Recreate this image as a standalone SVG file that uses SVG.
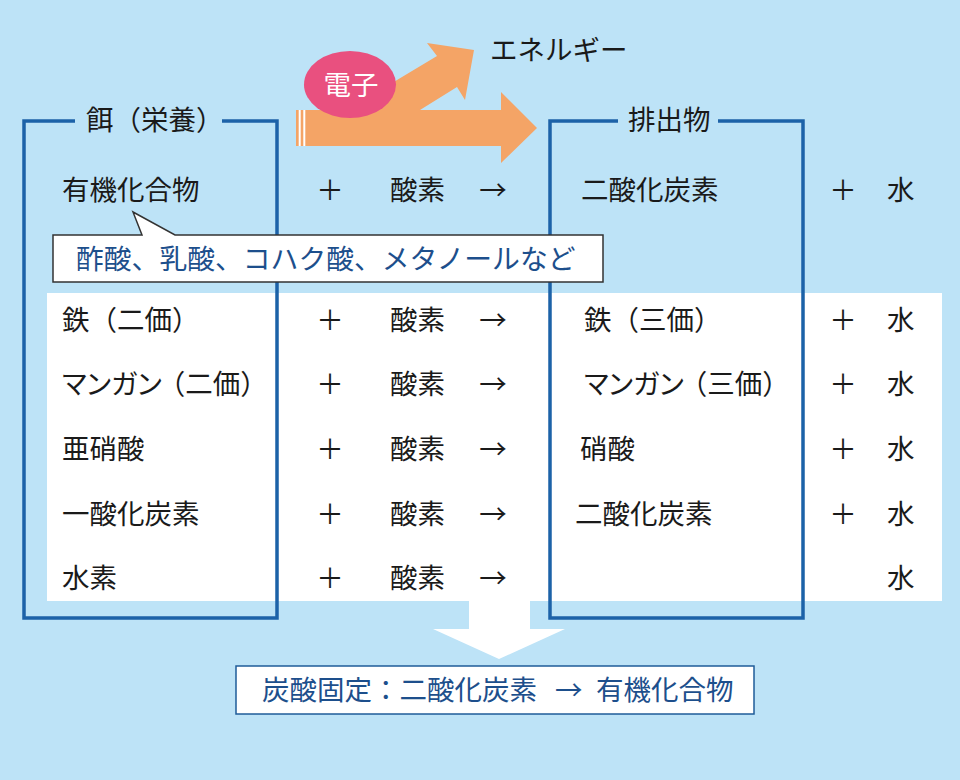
<svg xmlns="http://www.w3.org/2000/svg" width="960" height="780" viewBox="0 0 960 780">
<style>
text{font-family:"Noto Sans CJK JP","Noto Sans",sans-serif;font-size:27.5px;fill:#1a1a1a}
.m{text-anchor:middle}
.b{fill:#1d4f8c}
.w{fill:#ffffff}
.p{font-feature-settings:"palt"}
.br{fill:none;stroke:#1c62a8;stroke-width:3.5}
</style>
<rect x="0" y="0" width="960" height="780" fill="#bde3f7"/>
<rect id="band" x="47" y="293" width="895" height="308" fill="#ffffff"/>
<g id="energy-arrow">
<polygon fill="#f4a466" points="296,110 347,110 437,56 427,43 474,50 465,100 457,87 420,110 501,110 501,92 537,128 501,163 501,146 296,146"/>
<rect x="298.7" y="110" width="2" height="36" fill="#ffffff"/>
<rect x="303.3" y="110" width="2" height="36" fill="#ffffff"/>
<text x="490" y="60">エネルギー</text>
</g>
<g id="electron">
<ellipse cx="350" cy="84.5" rx="46" ry="33.5" fill="#e9507f"/>
<text class="m w" x="351" y="95">電子</text>
</g>
<g id="food">
<polyline class="br" points="75,121 24,121 24,618 277,618 277,121 222,121"/>
<text x="86" y="130">餌（栄養）</text>
</g>
<g id="waste">
<polyline class="br" points="618,121 550,121 550,618 803,618 803,121 718,121"/>
<text x="628" y="130">排出物</text>
</g>
<g id="callout">
<polygon points="53,235 142,235 133,212 175,235 603,235 603,282 53,282" fill="#ffffff" stroke="#333333" stroke-width="1.5"/>
<text class="b" x="76" y="269" style="font-size:27.8px">酢酸、乳酸、コハク酸、メタノールなど</text>
</g>
<g id="rows">
<text x="62" y="200">有機化合物</text>
<text class="m" x="330" y="200">＋</text>
<text x="390" y="200">酸素</text>
<text class="m" x="493" y="200">→</text>
<text x="581" y="200">二酸化炭素</text>
<text class="m" x="843" y="200">＋</text>
<text x="887" y="200">水</text>

<text x="62" y="330">鉄（二価）</text>
<text class="m" x="330" y="330">＋</text>
<text x="390" y="330">酸素</text>
<text class="m" x="493" y="330">→</text>
<text x="584" y="330">鉄（三価）</text>
<text class="m" x="843" y="330">＋</text>
<text x="887" y="330">水</text>

<text x="62" y="394"><tspan class="p">マンガン</tspan><tspan dx="-4">（二価）</tspan></text>
<text class="m" x="330" y="394">＋</text>
<text x="390" y="394">酸素</text>
<text class="m" x="493" y="394">→</text>
<text x="584" y="394"><tspan class="p">マンガン</tspan><tspan dx="-4">（三価）</tspan></text>
<text class="m" x="843" y="394">＋</text>
<text x="887" y="394">水</text>

<text x="62" y="459">亜硝酸</text>
<text class="m" x="330" y="459">＋</text>
<text x="390" y="459">酸素</text>
<text class="m" x="493" y="459">→</text>
<text x="580" y="459">硝酸</text>
<text class="m" x="843" y="459">＋</text>
<text x="887" y="459">水</text>

<text x="62" y="524">一酸化炭素</text>
<text class="m" x="330" y="524">＋</text>
<text x="390" y="524">酸素</text>
<text class="m" x="493" y="524">→</text>
<text x="575" y="524">二酸化炭素</text>
<text class="m" x="843" y="524">＋</text>
<text x="887" y="524">水</text>

<text x="62" y="588">水素</text>
<text class="m" x="330" y="588">＋</text>
<text x="390" y="588">酸素</text>
<text class="m" x="493" y="588">→</text>
<text x="887" y="588">水</text>
</g>
<g id="connectors">
<polygon fill="#ffffff" points="469,600 530,600 530,629 565,629 499,659 433,629 469,629"/>
</g>
<g id="carbon-fixation">
<rect x="236" y="666" width="518" height="48" fill="#ffffff" stroke="#1f5c99" stroke-width="1.5"/>
<text class="b" x="262" y="700">炭酸固定：二酸化炭素<tspan x="555">→</tspan><tspan x="596">有機化合物</tspan></text>
</g>
</svg>
